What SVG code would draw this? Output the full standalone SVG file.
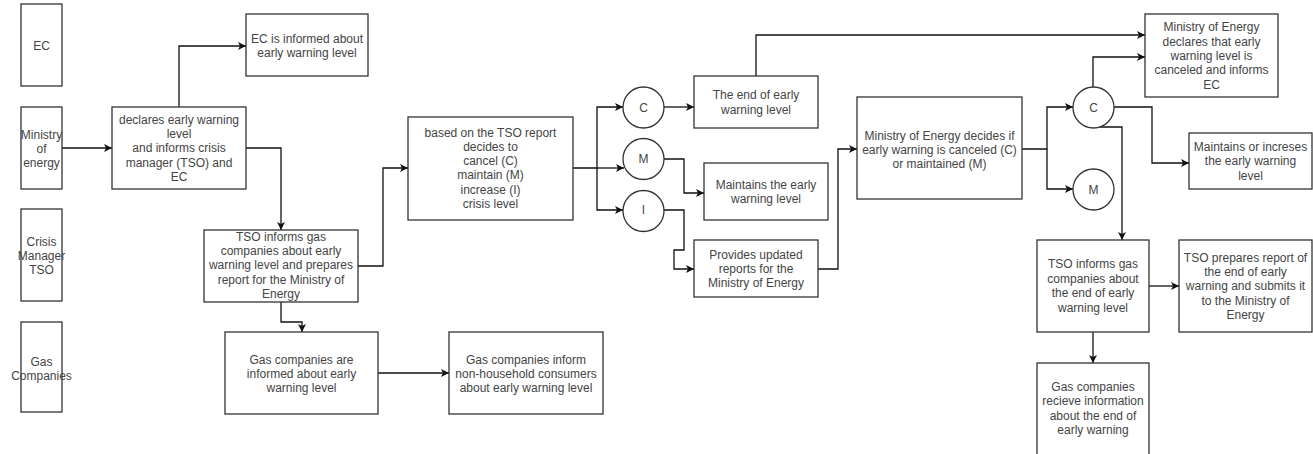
<svg xmlns="http://www.w3.org/2000/svg" width="1313" height="454" viewBox="0 0 1313 454">
<style>
.b{fill:#fff;stroke:#333;stroke-width:1.3}
.t{font-family:"Liberation Sans",Arial,sans-serif;font-size:12px;fill:#444;text-anchor:middle;dominant-baseline:central}
.c{fill:none;stroke:#111;stroke-width:1.3;marker-end:url(#ah)}
</style>
<defs>
<marker id="ah" markerUnits="userSpaceOnUse" markerWidth="9" markerHeight="8" refX="8" refY="4" orient="auto">
<path d="M0,0 L8,4 L0,8 L2,4 z" fill="#111"/>
</marker>
</defs>
<rect width="1313" height="454" fill="#fff"/>
<g id="connectors">
<path class="c" d="M62,148 H112"/>
<path class="c" d="M179,107 V46 H246"/>
<path class="c" d="M246,148 H281 V230"/>
<path class="c" d="M281,302 V322 H302 V332"/>
<path class="c" d="M378,373 H449"/>
<path class="c" d="M358,266 H383 V168 H408"/>
<path class="c" d="M573,168 H597 V107 H623"/>
<path class="c" d="M597,168 H624"/>
<path class="c" d="M597,168 V210 H623"/>
<path class="c" d="M664,107 H694"/>
<path class="c" d="M756,76 V35 H1145"/>
<path class="c" d="M664,159 H684 V193 H704"/>
<path class="c" d="M664,210 H684 V250 H674 V269 H694"/>
<path class="c" d="M818,269 H838 V149 H857"/>
<path class="c" d="M1022,149 H1047 V107 H1073"/>
<path class="c" d="M1047,149 V189 H1073"/>
<path class="c" d="M1093,87 V57 H1145"/>
<path class="c" d="M1114,107 H1152 V163 H1189"/>
<path class="c" d="M1100,127 H1122 V240"/>
<path class="c" d="M1149,286 H1179"/>
<path class="c" d="M1093,332 V363"/>
</g>
<g id="lane-ec"><rect class="b" x="21" y="4" width="41" height="82"/><text class="t" x="41.5" y="46">EC</text></g>
<g id="lane-ministry"><rect class="b" x="21" y="107" width="41" height="82"/><text class="t" x="41.5" y="135">Ministry</text><text class="t" x="41.5" y="149">of</text><text class="t" x="41.5" y="163">energy</text></g>
<g id="lane-crisis"><rect class="b" x="21" y="209" width="41" height="92"/><text class="t" x="41.5" y="241.5">Crisis</text><text class="t" x="41.5" y="256">Manager</text><text class="t" x="41.5" y="270">TSO</text></g>
<g id="lane-gas"><rect class="b" x="21" y="322" width="41" height="90"/><text class="t" x="41.5" y="361.5">Gas</text><text class="t" x="41.5" y="376">Companies</text></g>
<g id="n-declares"><rect class="b" x="112" y="107" width="134" height="82"/><text class="t" x="179" y="120">declares early warning</text><text class="t" x="179" y="134">level</text><text class="t" x="179" y="148">and informs crisis</text><text class="t" x="179" y="162.5">manager (TSO) and</text><text class="t" x="179" y="176.5">EC</text></g>
<g id="n-ec-informed"><rect class="b" x="246" y="14" width="122" height="62"/><text class="t" x="307" y="38.5">EC is informed about</text><text class="t" x="307" y="53">early warning level</text></g>
<g id="n-tso-informs"><rect class="b" x="204" y="230" width="154" height="72"/><text class="t" x="281" y="237">TSO informs gas</text><text class="t" x="281" y="251">companies about early</text><text class="t" x="281" y="265">warning level and prepares</text><text class="t" x="281" y="279.5">report for the Ministry of</text><text class="t" x="281" y="294">Energy</text></g>
<g id="n-gas-informed"><rect class="b" x="225" y="332" width="153" height="82"/><text class="t" x="301.5" y="359.5">Gas companies are</text><text class="t" x="301.5" y="373.5">informed about early</text><text class="t" x="301.5" y="388">warning level</text></g>
<g id="n-gas-inform"><rect class="b" x="449" y="332" width="154" height="82"/><text class="t" x="526" y="359.5">Gas companies inform</text><text class="t" x="526" y="373.5">non-household consumers</text><text class="t" x="526" y="388">about early warning level</text></g>
<g id="n-based"><rect class="b" x="408" y="117" width="165" height="103"/><text class="t" x="490.5" y="132.5">based on the TSO report</text><text class="t" x="490.5" y="146.5">decides to</text><text class="t" x="490.5" y="161">cancel (C)</text><text class="t" x="490.5" y="175">maintain (M)</text><text class="t" x="490.5" y="189.5">increase (I)</text><text class="t" x="490.5" y="203.5">crisis level</text></g>
<g id="c1"><circle class="b" cx="643.5" cy="107.5" r="20.5"/><text class="t" x="643.5" y="107.5">C</text></g>
<g id="m1"><circle class="b" cx="643.5" cy="159" r="20.5"/><text class="t" x="643.5" y="159">M</text></g>
<g id="i1"><circle class="b" cx="643.5" cy="211" r="20.5"/><text class="t" x="643.5" y="210">I</text></g>
<g id="n-end"><rect class="b" x="694" y="76" width="124" height="52"/><text class="t" x="756" y="95">The end of early</text><text class="t" x="756" y="110">warning level</text></g>
<g id="n-maintains"><rect class="b" x="704" y="163" width="124" height="57"/><text class="t" x="766" y="184.5">Maintains the early</text><text class="t" x="766" y="198.5">warning level</text></g>
<g id="n-provides"><rect class="b" x="694" y="240" width="124" height="57"/><text class="t" x="756" y="254.5">Provides updated</text><text class="t" x="756" y="268.5">reports for the</text><text class="t" x="756" y="283">Ministry of Energy</text></g>
<g id="n-min-decides"><rect class="b" x="857" y="97" width="165" height="102"/><text class="t" x="939.5" y="136">Ministry of Energy decides if</text><text class="t" x="939.5" y="149.5">early warning is canceled (C)</text><text class="t" x="939.5" y="164">or maintained (M)</text></g>
<g id="c2"><circle class="b" cx="1093.5" cy="107.5" r="20.5"/><text class="t" x="1093.5" y="107.5">C</text></g>
<g id="m2"><circle class="b" cx="1093.5" cy="189.5" r="20.5"/><text class="t" x="1093.5" y="189.5">M</text></g>
<g id="n-min-declares"><rect class="b" x="1145" y="14" width="133" height="83"/><text class="t" x="1211.5" y="27">Ministry of Energy</text><text class="t" x="1211.5" y="41.5">declares that early</text><text class="t" x="1211.5" y="56">warning level is</text><text class="t" x="1211.5" y="70">canceled and informs</text><text class="t" x="1211.5" y="84.5">EC</text></g>
<g id="n-maint-incr"><rect class="b" x="1189" y="133" width="123" height="56"/><text class="t" x="1250.5" y="147">Maintains or increses</text><text class="t" x="1250.5" y="161">the early warning</text><text class="t" x="1250.5" y="175.5">level</text></g>
<g id="n-tso-end"><rect class="b" x="1037" y="240" width="112" height="92"/><text class="t" x="1093" y="264">TSO informs gas</text><text class="t" x="1093" y="278.5">companies about</text><text class="t" x="1093" y="293">the end of early</text><text class="t" x="1093" y="307.5">warning level</text></g>
<g id="n-tso-prepares"><rect class="b" x="1179" y="240" width="133" height="92"/><text class="t" x="1245.5" y="257.5">TSO prepares report of</text><text class="t" x="1245.5" y="271.5">the end of early</text><text class="t" x="1245.5" y="286">warning and submits it</text><text class="t" x="1245.5" y="300.5">to the Ministry of</text><text class="t" x="1245.5" y="315">Energy</text></g>
<g id="n-gas-recieve"><rect class="b" x="1037" y="363" width="112" height="95"/><text class="t" x="1093" y="386.5">Gas companies</text><text class="t" x="1093" y="401">recieve information</text><text class="t" x="1093" y="415.5">about the end of</text><text class="t" x="1093" y="430">early warning</text></g>
</svg>
